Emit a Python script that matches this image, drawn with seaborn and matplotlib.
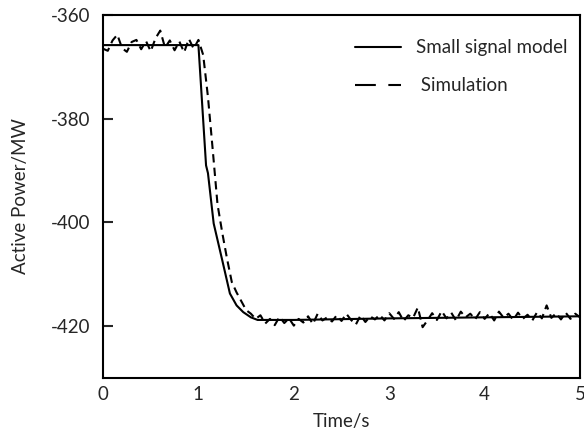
import numpy as np
import pandas as pd
import matplotlib
matplotlib.use("Agg")
import matplotlib.pyplot as plt
import seaborn as sns

# small signal model
t_model = [0.00, 1.00, 1.08, 1.10, 1.16, 1.25, 1.33, 1.40, 1.47, 1.55, 1.62, 2.00, 3.00, 4.00, 5.00]
p_model = [-365.8, -365.8, -389.0, -390.5, -400.2, -407.3, -413.7, -416.0, -417.3, -418.3,
           -418.8, -418.8, -418.5, -418.3, -418.1]

# simulation, sampled every 0.05 s
t_sim = np.round(np.linspace(0, 5, 101), 2)
p_sim = [-366.5, -366.9, -364.9, -363.8, -366.4, -367.1, -365.2, -364.8, -366.6, -365.0,
         -367.0, -364.5, -363.0, -366.3, -364.9, -366.8, -365.1, -367.2, -364.6, -366.5,
         -364.8, -367.7, -375.8, -386.0, -396.5, -402.0, -407.0, -411.5, -413.5, -415.2,
         -416.9, -417.6, -418.6, -417.9, -419.5, -418.6, -419.8, -418.2, -419.4, -418.5,
         -419.9, -418.6, -419.3, -418.1, -419.6, -417.6, -418.9, -418.3, -419.1, -417.9,
         -419.0, -417.6, -418.8, -419.7, -417.9, -419.2, -418.1, -418.7, -417.8, -418.9,
         -417.5, -418.6, -417.3, -419.0, -417.9, -418.4, -416.4, -420.2, -418.9, -417.5,
         -418.8, -417.1, -418.5, -417.4, -418.9, -417.2, -418.3, -417.6, -418.7, -417.3,
         -418.6, -417.5, -418.9, -417.2, -418.4, -417.6, -418.8, -417.4, -418.6, -417.8,
         -418.9, -417.3, -418.5, -416.0, -418.4, -417.5, -418.7, -417.4, -418.6, -417.6,
         -418.3]

df_model = pd.DataFrame({"t": t_model, "p": p_model})
df_sim = pd.DataFrame({"t": t_sim, "p": p_sim})

sns.set_style("white")
plt.rcParams["font.family"] = ["Lato", "DejaVu Sans"]
plt.rcParams["axes.unicode_minus"] = False

fs = 13.5
fig = plt.figure(figsize=(5.84, 4.34), dpi=100)
ax = fig.add_axes([0.1764, 0.129, 0.8168, 0.8364])

sns.lineplot(data=df_model, x="t", y="p", ax=ax, color="black", lw=1.5,
             label="Small signal model", estimator=None, sort=False)
sns.lineplot(data=df_sim, x="t", y="p", ax=ax, color="black", lw=1.5,
             label=" Simulation", estimator=None, sort=False)
ax.lines[1].set_dashes((4, 2.5))

ax.set_xlim(0, 5)
ax.set_ylim(-430, -360)
ax.set_xticks([0, 1, 2, 3, 4, 5])
ax.set_yticks([-360, -380, -400, -420])
ax.tick_params(axis="x", length=0, pad=6, labelsize=fs)
ax.tick_params(axis="y", direction="in", length=7, width=1.5, pad=9, labelsize=fs, left=True)
for s in ax.spines.values():
    s.set_linewidth(1.5)
    s.set_color("black")

ax.set_xlabel("Time/s", fontsize=fs, labelpad=7)
ax.set_ylabel("Active Power/MW", fontsize=fs, labelpad=16)

leg = ax.legend(loc="upper right", frameon=False, fontsize=fs, handlelength=2.5,
                handletextpad=0.8, labelspacing=1.12, bbox_to_anchor=(1.01, 0.98))
leg.get_lines()[1].set_dashes((10, 6))

fig.savefig("out.png", dpi=100)
